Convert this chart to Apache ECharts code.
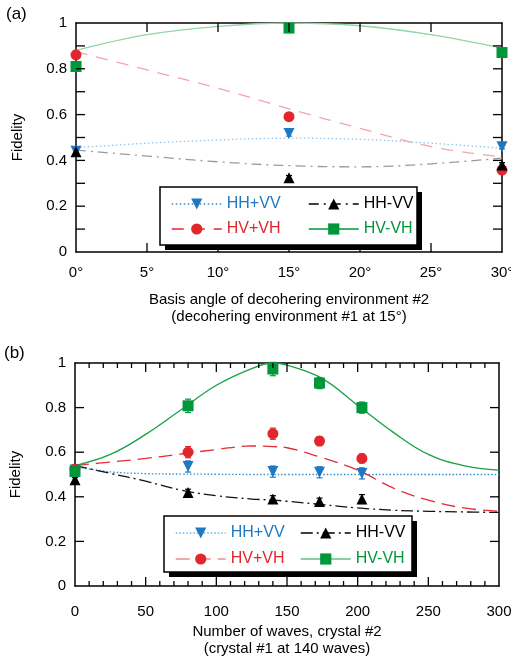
<!DOCTYPE html>
<html>
<head>
<meta charset="utf-8">
<script src="https://cdn.jsdelivr.net/npm/echarts@6/dist/echarts.min.js"></script>
<style>html,body{margin:0;padding:0;background:#fff}#chart{width:511px;height:658px}</style>
</head>
<body>
<div id="chart"></div>
<script>
// panel (a): basis angle of environment #2
var angles = [0, 15, 30];
var aHHpVV = [0.44, 0.518, 0.46];
var aHHmVV = [0.438, 0.324, 0.38];
var aHVpVH = [0.861, 0.591, 0.358];
var aHVmVH = [0.81, 0.978, 0.871];
var aErrHHpVV = [0.01, 0.012, 0.01];
var aErrHHmVV = [0.01, 0.01, 0.01];
var aErrHVpVH = [0.012, 0.015, 0.012];
var aErrHVmVH = [0.012, 0.02, 0.012];
// theory curves (a)
var fitAngles = [0, 5, 10, 15, 20, 25, 30];
var aFitHHpVV = [0.455, 0.475, 0.489, 0.497, 0.492, 0.475, 0.453];
var aFitHHmVV = [0.445, 0.419, 0.394, 0.377, 0.372, 0.385, 0.41];
var aFitHVpVH = [0.875, 0.795, 0.715, 0.625, 0.54, 0.46, 0.415];
var aFitHVmVH = [0.88, 0.949, 0.985, 1.0, 0.988, 0.949, 0.89];

// panel (b): number of waves, crystal #2
var waves = [0, 80, 140, 173, 203];
var bHHpVV = [0.52, 0.536, 0.513, 0.51, 0.505];
var bHHmVV = [0.476, 0.419, 0.39, 0.379, 0.39];
var bHVpVH = [0.525, 0.60, 0.683, 0.65, 0.572];
var bHVmVH = [0.513, 0.808, 0.973, 0.91, 0.80];
var bErrHHpVV = [0.01, 0.025, 0.025, 0.025, 0.025];
var bErrHHmVV = [0.01, 0.015, 0.015, 0.015, 0.02];
var bErrHVpVH = [0.01, 0.025, 0.025, 0.02, 0.02];
var bErrHVmVH = [0.01, 0.03, 0.03, 0.025, 0.025];
// theory curves (b)
var fitWaves = [0, 25, 50, 75, 100, 125, 140, 150, 175, 200, 225, 250, 275, 300];
var bFitHHpVV = [0.535, 0.512, 0.504, 0.502, 0.501, 0.5, 0.5, 0.5, 0.5, 0.5, 0.5, 0.5, 0.5, 0.5];
var bFitHHmVV = [0.54, 0.505, 0.47, 0.43, 0.405, 0.39, 0.385, 0.38, 0.365, 0.35, 0.34, 0.335, 0.332, 0.33];
var bFitHVpVH = [0.54, 0.556, 0.572, 0.592, 0.612, 0.628, 0.625, 0.62, 0.575, 0.52, 0.44, 0.385, 0.35, 0.335];
var bFitHVmVH = [0.54, 0.59, 0.68, 0.79, 0.90, 0.975, 1.0, 0.99, 0.93, 0.81, 0.69, 0.59, 0.54, 0.52];

// tick positions on the frames
var aTickX = [5, 10, 15, 20, 25];
var aTickY = [0.1, 0.2, 0.3, 0.4, 0.5, 0.6, 0.7, 0.8, 0.9];
var bTickX = [50, 100, 150, 200, 250];
var bMinorX = [10, 20, 30, 40, 60, 70, 80, 90, 110, 120, 130, 140, 160, 170, 180, 190,
    210, 220, 230, 240, 260, 270, 280, 290];
var bTickY = [0.2, 0.4, 0.6, 0.8];

var FONT = 'Liberation Sans, Arial, Helvetica, sans-serif';
var blue = '#1f78c1', red = '#e2262d', green = '#00973a', black = '#000';
var triDown = 'path://M0,0L10,0L5,9Z';

function zip(xs, ys) {
    return xs.map(function (x, i) { return [x, ys[i]]; });
}

function fitSeries(name, xs, ys, idx, marker, markColor, lineColor, dash) {
    return {
        name: name, type: 'line', xAxisIndex: idx, yAxisIndex: idx,
        data: zip(xs, ys), smooth: 0.4, showSymbol: false,
        symbol: marker, symbolSize: 10, silent: true, z: 2,
        itemStyle: {color: markColor},
        lineStyle: {color: lineColor, width: 1.3, type: dash}
    };
}

function errSeries(name, xs, ys, es, idx, color) {
    return {
        name: name + '-err', type: 'custom', xAxisIndex: idx, yAxisIndex: idx,
        data: xs.map(function (x, i) { return [x, ys[i] - es[i], ys[i] + es[i]]; }),
        encode: {x: 0, y: [1, 2]}, z: 3, silent: true,
        itemStyle: {color: color},
        renderItem: function (params, api) {
            var x = api.value(0);
            var lo = api.coord([x, api.value(1)]);
            var hi = api.coord([x, api.value(2)]);
            var st = {stroke: color, lineWidth: 1.2};
            return {type: 'group', children: [
                {type: 'line', shape: {x1: lo[0], y1: lo[1], x2: hi[0], y2: hi[1]}, style: st},
                {type: 'line', shape: {x1: lo[0] - 3, y1: lo[1], x2: lo[0] + 3, y2: lo[1]}, style: st},
                {type: 'line', shape: {x1: hi[0] - 3, y1: hi[1], x2: hi[0] + 3, y2: hi[1]}, style: st}
            ]};
        }
    };
}

function pointSeries(name, xs, ys, idx, marker, color, size) {
    return {
        name: name, type: 'scatter', xAxisIndex: idx, yAxisIndex: idx,
        data: zip(xs, ys), symbol: marker, symbolSize: size, z: 4,
        itemStyle: {color: color, opacity: 1}
    };
}

// inward ticks on all four sides of a grid, placed through the axes' scales
// item = [x, y, kind]; kind 0 = major x, 1 = minor x, 2 = y
function tickSeries(name, idx, majorX, minorX, ys) {
    var data = majorX.map(function (v) { return [v, 0, 0]; })
        .concat(minorX.map(function (v) { return [v, 0, 1]; }))
        .concat(ys.map(function (v) { return [0, v, 2]; }));
    return {
        name: name, type: 'custom', xAxisIndex: idx, yAxisIndex: idx,
        data: data, encode: {x: 0, y: 1}, z: 5, silent: true,
        renderItem: function (params, api) {
            var cs = params.coordSys;
            var p = api.coord([api.value(0), api.value(1)]);
            var kind = api.value(2);
            var st = {stroke: '#000', lineWidth: 1.3};
            if (kind < 2) {
                var len = kind === 1 ? 5 : 9;
                var yb = cs.y + cs.height;
                return {type: 'group', children: [
                    {type: 'line', shape: {x1: p[0], y1: yb, x2: p[0], y2: yb - len}, style: st},
                    {type: 'line', shape: {x1: p[0], y1: cs.y, x2: p[0], y2: cs.y + len}, style: st}
                ]};
            }
            var xr = cs.x + cs.width;
            return {type: 'group', children: [
                {type: 'line', shape: {x1: cs.x, y1: p[1], x2: cs.x + 9, y2: p[1]}, style: st},
                {type: 'line', shape: {x1: xr, y1: p[1], x2: xr - 9, y2: p[1]}, style: st}
            ]};
        }
    };
}

function frameAxis(base, extra) {
    return Object.assign({
        axisLine: {show: true, onZero: false, lineStyle: {color: '#000', width: 1.5}},
        axisTick: {show: false},
        axisLabel: {show: false},
        splitLine: {show: false}
    }, base, extra);
}

var labelStyle = {color: '#000', fontFamily: FONT, fontSize: 15};
var nameStyle = {color: '#000', fontFamily: FONT, fontSize: 15, lineHeight: 17};

var xAxes = [
    frameAxis({gridIndex: 0, type: 'value', min: 0, max: 30, interval: 5, position: 'bottom'}, {
        axisLabel: Object.assign({show: true, margin: 13, formatter: '{value}°'}, labelStyle),
        name: 'Basis angle of decohering environment #2\n(decohering environment #1 at 15°)',
        nameLocation: 'middle', nameGap: 39, nameTextStyle: nameStyle, nameMoveOverlap: false
    }),
    frameAxis({gridIndex: 0, type: 'value', min: 0, max: 30, interval: 5, position: 'top'}),
    frameAxis({gridIndex: 1, type: 'value', min: 0, max: 300, interval: 50, position: 'bottom'}, {
        axisLabel: Object.assign({show: true, margin: 18}, labelStyle),
        name: 'Number of waves, crystal #2\n(crystal #1 at 140 waves)',
        nameLocation: 'middle', nameGap: 37, nameTextStyle: nameStyle, nameMoveOverlap: false
    }),
    frameAxis({gridIndex: 1, type: 'value', min: 0, max: 300, interval: 50, position: 'top'})
];

var yAxes = [
    frameAxis({gridIndex: 0, type: 'value', min: 0, max: 1, interval: 0.1, position: 'left'}, {
        axisLabel: Object.assign({show: true, margin: 9, formatter: function (v) {
            var k = Math.round(v * 10);
            return k % 2 ? '' : String(k / 10);
        }}, labelStyle),
        name: 'Fidelity', nameLocation: 'middle', nameGap: 50, nameTextStyle: nameStyle, nameMoveOverlap: false
    }),
    frameAxis({gridIndex: 0, type: 'value', min: 0, max: 1, interval: 0.1, position: 'right'}),
    frameAxis({gridIndex: 1, type: 'value', min: 0, max: 1, interval: 0.2, position: 'left'}, {
        axisLabel: Object.assign({show: true, margin: 9}, labelStyle),
        name: 'Fidelity', nameLocation: 'middle', nameGap: 51, nameTextStyle: nameStyle, nameMoveOverlap: false
    }),
    frameAxis({gridIndex: 1, type: 'value', min: 0, max: 1, interval: 0.2, position: 'right'})
];

var series = [
    // panel (a)
    fitSeries('a:HH+VV', fitAngles, aFitHHpVV, 0, triDown, blue, '#93c5ea', [1.5, 2.5]),
    fitSeries('a:HV+VH', fitAngles, aFitHVpVH, 0, 'circle', red, '#f3a5a8', [12, 9]),
    fitSeries('a:HH-VV', fitAngles, aFitHHmVV, 0, 'triangle', black, '#9a9a9a', [10, 5, 2, 5]),
    fitSeries('a:HV-VH', fitAngles, aFitHVmVH, 0, 'rect', green, '#93d5a6', 'solid'),
    errSeries('a:HH+VV', angles, aHHpVV, aErrHHpVV, 0, blue),
    errSeries('a:HV+VH', angles, aHVpVH, aErrHVpVH, 0, red),
    errSeries('a:HH-VV', angles, aHHmVV, aErrHHmVV, 0, black),
    errSeries('a:HV-VH', angles, aHVmVH, aErrHVmVH, 0, green),
    pointSeries('a:HH+VV', angles, aHHpVV, 0, triDown, blue, 11),
    pointSeries('a:HV+VH', angles, aHVpVH, 0, 'circle', red, 11),
    pointSeries('a:HH-VV', angles, aHHmVV, 0, 'triangle', black, 11),
    pointSeries('a:HV-VH', angles, aHVmVH, 0, 'rect', green, 11),
    tickSeries('ticks-a', 0, aTickX, [], aTickY),
    // panel (b)
    fitSeries('b:HH+VV', fitWaves, bFitHHpVV, 2, triDown, blue, '#2b8fd6', [1.5, 2]),
    fitSeries('b:HV+VH', fitWaves, bFitHVpVH, 2, 'circle', red, '#e52d35', [14, 7]),
    fitSeries('b:HH-VV', fitWaves, bFitHHmVV, 2, 'triangle', black, '#111', [12, 4, 2, 4]),
    fitSeries('b:HV-VH', fitWaves, bFitHVmVH, 2, 'rect', green, '#17a045', 'solid'),
    errSeries('b:HH+VV', waves, bHHpVV, bErrHHpVV, 2, blue),
    errSeries('b:HV+VH', waves, bHVpVH, bErrHVpVH, 2, red),
    errSeries('b:HH-VV', waves, bHHmVV, bErrHHmVV, 2, black),
    errSeries('b:HV-VH', waves, bHVmVH, bErrHVmVH, 2, green),
    pointSeries('b:HH+VV', waves, bHHpVV, 2, triDown, blue, 11),
    pointSeries('b:HV+VH', waves, bHVpVH, 2, 'circle', red, 11),
    pointSeries('b:HH-VV', waves, bHHmVV, 2, 'triangle', black, 11),
    pointSeries('b:HV-VH', waves, bHVmVH, 2, 'rect', green, 11),
    tickSeries('ticks-b', 2, bTickX, bMinorX, bTickY)
];

function legendItem(name, color, lineColor) {
    return {name: name, textStyle: {color: color}, lineStyle: {color: lineColor, width: 1.5}};
}
function legend(left, top, gap, items) {
    return {
        orient: 'vertical', left: left, top: top, padding: 0, itemGap: gap,
        itemWidth: 50, itemHeight: 14, selectedMode: false, z: 10,
        formatter: function (n) { return n.slice(2); },
        textStyle: {fontFamily: FONT, fontSize: 16},
        data: items
    };
}

function box(x, y, w, h) {
    return [
        {type: 'rect', z: 8, shape: {x: x + 5, y: y + 5, width: w, height: h}, style: {fill: '#000'}},
        {type: 'rect', z: 9, shape: {x: x, y: y, width: w, height: h},
            style: {fill: '#fff', stroke: '#000', lineWidth: 1.5}}
    ];
}

var myChart = echarts.init(document.getElementById('chart'));
var option = {
    backgroundColor: '#fff',
    animation: false,
    title: [
        {text: '(a)', left: 6, top: 6, padding: 0, textStyle: {fontFamily: FONT, fontSize: 17, fontWeight: 'normal', color: '#000'}},
        {text: '(b)', left: 4, top: 345, padding: 0, textStyle: {fontFamily: FONT, fontSize: 17, fontWeight: 'normal', color: '#000'}}
    ],
    grid: [
        {left: 76, top: 23, width: 426, height: 229, outerBoundsMode: 'none'},
        {left: 75, top: 363, width: 424, height: 223, outerBoundsMode: 'none'}
    ],
    xAxis: xAxes,
    yAxis: yAxes,
    graphic: box(160, 187, 257, 58).concat(box(164, 516, 248, 56)),
    legend: [
        legend(171, 196, 9, [legendItem('a:HH+VV', blue, '#2e86cc'), legendItem('a:HV+VH', red, red)]),
        legend(308, 196, 9, [legendItem('a:HH-VV', black, black), legendItem('a:HV-VH', green, green)]),
        legend(175, 525, 10, [legendItem('b:HH+VV', blue, '#6fb0e0'), legendItem('b:HV+VH', red, '#f08a8f')]),
        legend(300, 525, 10, [legendItem('b:HH-VV', black, black), legendItem('b:HV-VH', green, '#5cc47a')])
    ],
    series: series
};
myChart.setOption(option);
</script>
</body>
</html>
